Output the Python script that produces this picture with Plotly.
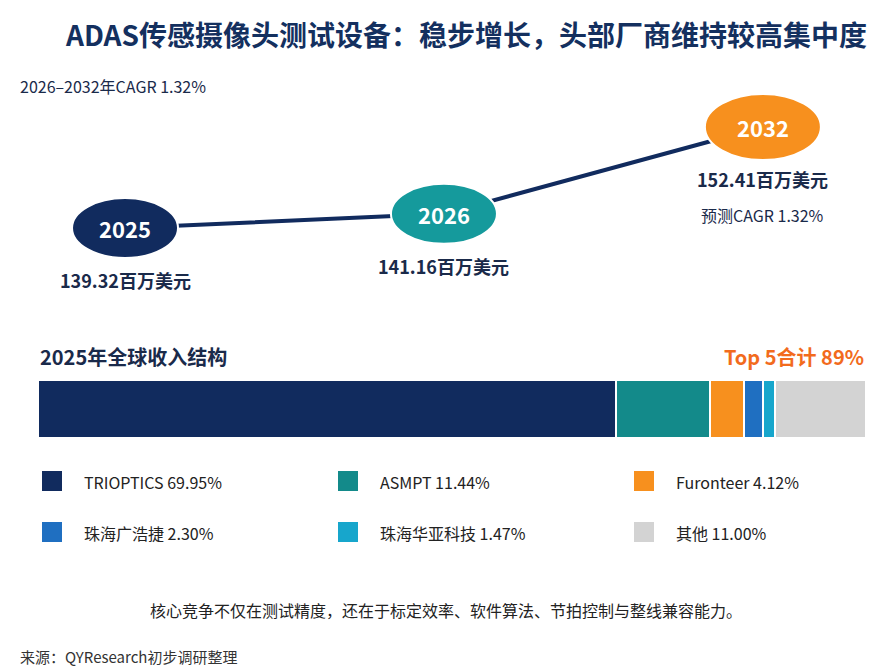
import plotly.graph_objects as go

W, H = 893, 671
FONT = "Noto Sans CJK SC"

years = ["2025", "2026", "2032"]
market_size = [139.32, 141.16, 152.41]
year_colors = ["#112b5e", "#159a9c", "#f7901e"]
value_labels = ["139.32百万美元", "141.16百万美元", "152.41百万美元"]

companies = ["TRIOPTICS", "ASMPT", "Furonteer", "珠海广浩捷", "珠海华亚科技", "其他"]
shares = [69.95, 11.44, 4.12, 2.30, 1.47, 11.00]
share_colors = ["#112b5e", "#138a8a", "#f7901e", "#1f6fc1", "#17a6cc", "#d3d3d3"]

OFF = 8  # page body margin


def px(x):
    return (x - OFF) / W


def py(y):
    return 1 - (y - OFF) / H


fig = go.Figure()

idx = list(range(len(years)))
fig.add_trace(go.Scatter(x=idx, y=market_size, mode="lines",
                         line=dict(color="#112b5e", width=4),
                         hoverinfo="skip", showlegend=False))

for i, c in enumerate(companies):
    fig.add_trace(go.Bar(x=[shares[i]], y=[0], orientation="h",
                         marker=dict(color=share_colors[i], line=dict(color="white", width=2)),
                         xaxis="x2", yaxis="y2", showlegend=False, name=c))

shapes = []
annotations = []
sizes = [(106, 60), (106, 60), (116, 66)]
for i, yr in enumerate(years):
    w, h = sizes[i]
    shapes.append(dict(type="circle", xref="x", yref="y", xsizemode="pixel", ysizemode="pixel",
                       xanchor=i, yanchor=market_size[i], x0=-w / 2, x1=w / 2, y0=-h / 2, y1=h / 2,
                       fillcolor=year_colors[i], line=dict(color="white", width=2), layer="above"))
    annotations.append(dict(x=i, y=market_size[i], xref="x", yref="y", text="<b>%s</b>" % yr,
                            showarrow=False, yanchor="middle",
                            font=dict(size=22, color="white", family=FONT)))
    annotations.append(dict(x=i, y=market_size[i], xref="x", yref="y", yshift=-52,
                            text="<b>%s</b>" % value_labels[i], showarrow=False, yanchor="middle",
                            font=dict(size=18, color="#1a2a4a", family=FONT)))
annotations.append(dict(x=2, y=market_size[2], xref="x", yref="y", yshift=-88,
                        text="预测CAGR 1.32%", showarrow=False, yanchor="middle",
                        font=dict(size=16, color="#1a2a4a", family=FONT)))

# legend grid
for i, c in enumerate(companies):
    col, row = i % 3, i // 3
    x0 = 42 + col * 296
    y0 = 471 + row * 51
    shapes.append(dict(type="rect", xref="paper", yref="paper",
                       x0=px(x0), x1=px(x0 + 20), y0=py(y0 + 20), y1=py(y0),
                       fillcolor=share_colors[i], line=dict(width=0)))
    annotations.append(dict(x=px(x0 + 40), y=py(y0 + 11), xref="paper", yref="paper",
                            xanchor="left", yanchor="middle",
                            text="%s %.2f%%" % (c, shares[i]), showarrow=False,
                            font=dict(size=16, color="#222", family=FONT)))


def note(x, y, text, size, color, xanchor="left"):
    annotations.append(dict(x=px(x), y=py(y), xref="paper", yref="paper", xanchor=xanchor,
                            yanchor="middle", text=text, showarrow=False,
                            font=dict(size=size, color=color, family=FONT)))


note(466, 34, "<b>ADAS传感摄像头测试设备：稳步增长，头部厂商维持较高集中度</b>", 28, "#14305f", "center")
note(18, 86, "2026–2032年CAGR 1.32%", 16, "#1a2a4a")
note(38, 356, "<b>2025年全球收入结构</b>", 20, "#1a2a4a")
note(866, 356, "<b>Top 5合计 89%</b>", 20, "#f26b1d", "right")
note(446, 610, "核心竞争不仅在测试精度，还在于标定效率、软件算法、节拍控制与整线兼容能力。", 16, "#222", "center")
note(18, 656, "来源：QYResearch初步调研整理", 15, "#333")

fig.update_layout(
    width=W, height=H, margin=dict(l=0, r=0, t=0, b=0),
    paper_bgcolor="white", plot_bgcolor="rgba(0,0,0,0)",
    barmode="stack", bargap=0,
    xaxis=dict(range=[-0.392 + 8 / 319, 2.408 + 8 / 319], visible=False, fixedrange=True),
    yaxis=dict(range=[81.91 - 8 / 7.716, 168.87 - 8 / 7.716], visible=False, fixedrange=True),
    xaxis2=dict(range=[0, 100.28], domain=[px(38), px(866)], anchor="y2", visible=False),
    yaxis2=dict(range=[-0.5, 0.5], domain=[py(438), py(380)], anchor="x2", visible=False),
    shapes=shapes, annotations=annotations,
)

fig.write_html("out.html")
